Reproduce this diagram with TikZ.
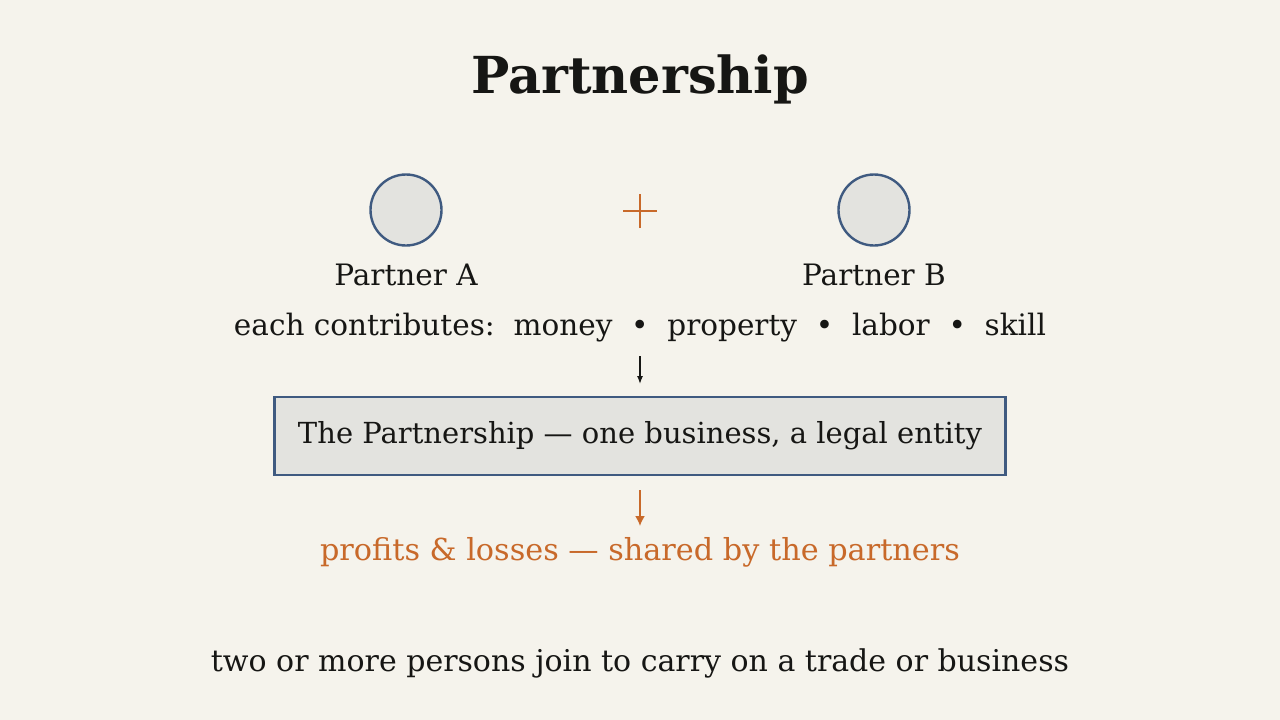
\documentclass[tikz,border=0pt]{standalone}
\usepackage{fontspec}
\setmainfont{DejaVu Serif}
\usetikzlibrary{arrows.meta}
\definecolor{bg}{HTML}{F5F3EC}
\definecolor{ink}{HTML}{161614}
\definecolor{navy}{HTML}{3F5A80}
\definecolor{fillg}{HTML}{E3E3DF}
\definecolor{rust}{HTML}{C8692A}
\tikzset{
  partner/.style={circle, draw=navy, line width=2.4pt, fill=fillg, minimum size=71pt, inner sep=0pt},
  lbl/.style={text=ink, font=\fontsize{29.5}{34}\selectfont, inner sep=0pt},
  entity/.style={draw=navy, line width=2.4pt, fill=fillg, minimum width=731pt, minimum height=78pt, text=ink, font=\fontsize{29}{34}\selectfont},
  darrow/.style={-{Latex[length=8pt,width=6pt]}, line width=1.3pt, draw=ink},
  oarrow/.style={-{Latex[length=10pt,width=10pt]}, line width=1.8pt, draw=rust},
}
\begin{document}
\begin{tikzpicture}[x=1pt,y=-1pt]
\fill[bg] (0,0) rectangle (1280,720);
\useasboundingbox (0,0) rectangle (1280,720);
\node[text=ink, font=\bfseries\fontsize{51}{58}\selectfont] (title) at (640,79) {Partnership};
\node[partner] (pa) at (406,210) {};
\node[partner] (pb) at (874,210) {};
\coordinate (plus) at (640,211);
\draw[rust, line width=1.8pt] ([xshift=-17pt]plus) -- ([xshift=17pt]plus) ([yshift=-17pt]plus) -- ([yshift=17pt]plus);
\node[lbl] (la) at (406,275) {Partner A};
\node[lbl] (lb) at (874,275) {Partner B};
\node[lbl] (contrib) at (640,328) {each contributes:\ \ money\ \ •\ \ property\ \ •\ \ labor\ \ •\ \ skill};
\node[entity] (box) at (640,436) {The Partnership — one business, a legal entity};
\coordinate (a1s) at (640,356);
\coordinate (a1e) at (640,384);
\draw[darrow] (a1s) -- (a1e);
\coordinate (a2s) at (640,490);
\coordinate (a2e) at (640,526);
\draw[oarrow] (a2s) -- (a2e);
\node[lbl, text=rust, font=\fontsize{30.3}{35}\selectfont] (profits) at (640,552) {profits \& losses — shared by the partners};
\node[lbl, font=\fontsize{30}{35}\selectfont] (foot) at (640,663) {two or more persons join to carry on a trade or business};
\end{tikzpicture}
\end{document}
